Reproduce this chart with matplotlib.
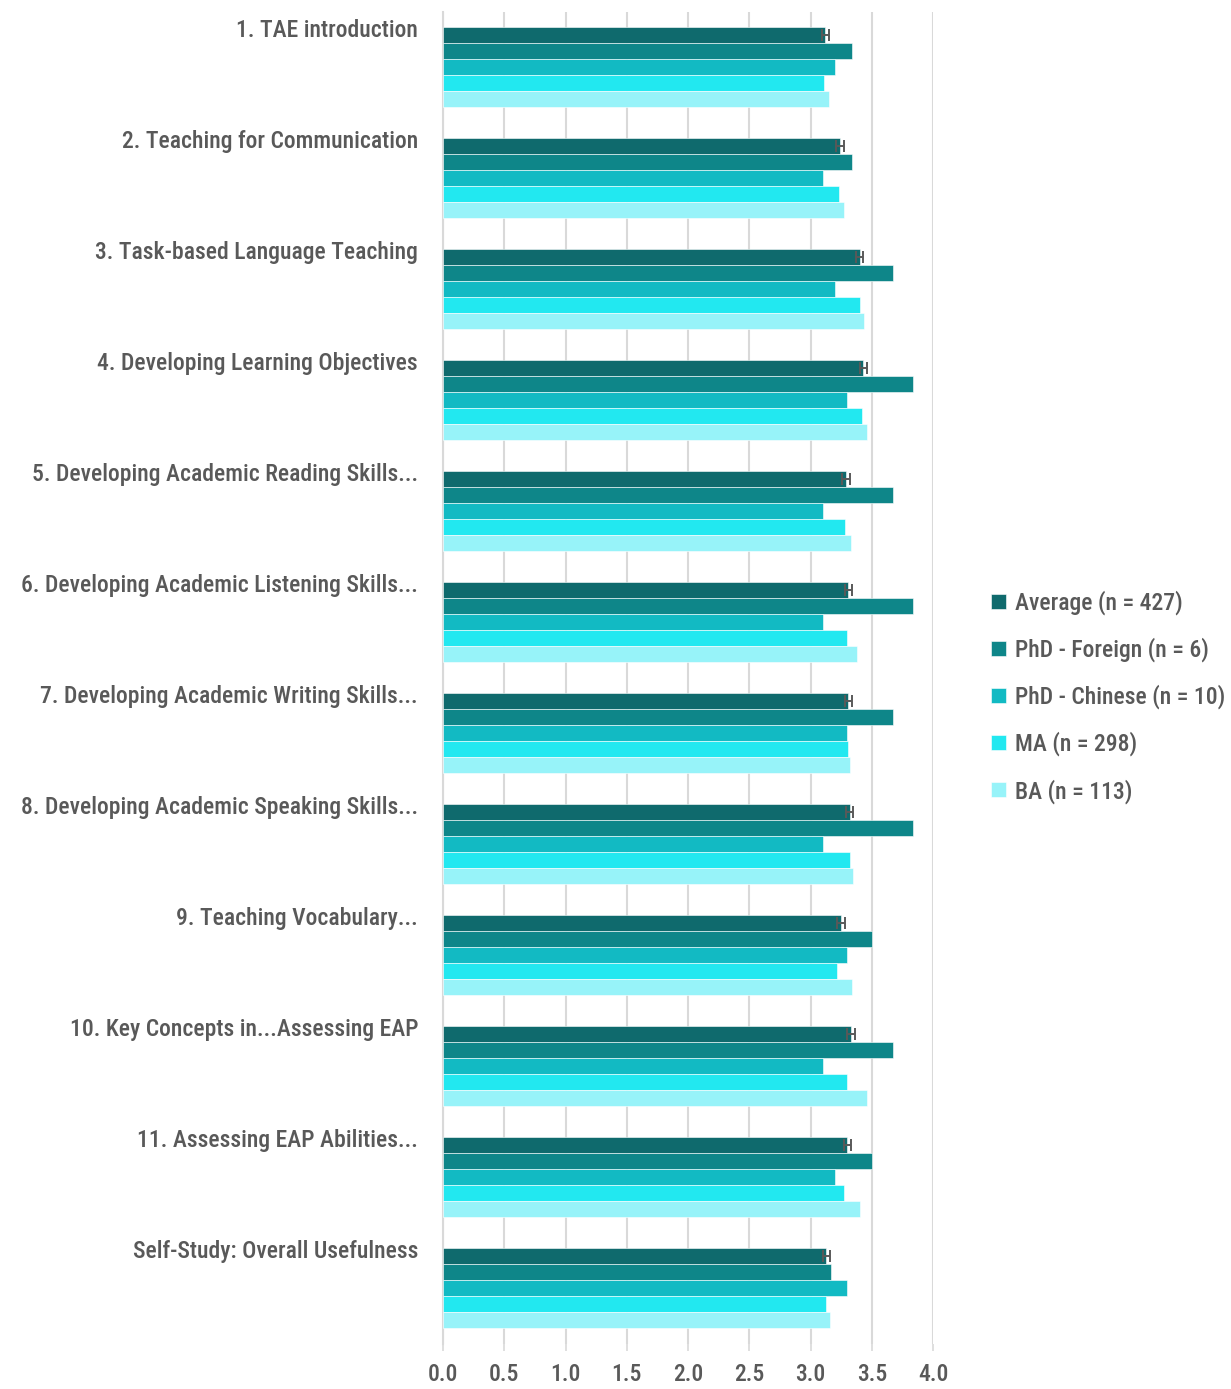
import matplotlib.pyplot as plt
from matplotlib import font_manager
import numpy as np

categories = [
    "1. TAE introduction",
    "2. Teaching for Communication",
    "3. Task-based Language Teaching",
    "4. Developing Learning Objectives",
    "5. Developing Academic Reading Skills...",
    "6. Developing Academic Listening Skills...",
    "7. Developing Academic Writing Skills...",
    "8. Developing Academic Speaking Skills...",
    "9. Teaching Vocabulary...",
    "10. Key Concepts in...Assessing EAP",
    "11. Assessing EAP Abilities...",
    "Self-Study: Overall Usefulness",
]

series_names = [
    "Average (n = 427)",
    "PhD - Foreign (n = 6)",
    "PhD - Chinese (n = 10)",
    "MA (n = 298)",
    "BA (n = 113)",
]

average = [3.12, 3.24, 3.40, 3.43, 3.29, 3.31, 3.31, 3.32, 3.25, 3.33, 3.30, 3.13]
phd_foreign = [3.34, 3.34, 3.67, 3.84, 3.67, 3.84, 3.67, 3.84, 3.50, 3.67, 3.50, 3.17]
phd_chinese = [3.20, 3.10, 3.20, 3.30, 3.10, 3.10, 3.30, 3.10, 3.30, 3.10, 3.20, 3.30]
ma = [3.11, 3.23, 3.40, 3.42, 3.28, 3.30, 3.31, 3.32, 3.22, 3.30, 3.27, 3.13]
ba = [3.15, 3.27, 3.44, 3.46, 3.33, 3.38, 3.32, 3.35, 3.34, 3.46, 3.40, 3.16]
avg_err = [0.03] * 12

colors = ["#0F6A6D", "#0E8689", "#12BAC3", "#22E8F0", "#97F3F9"]
text_color = "#595959"
grid_color = "#D9D9D9"

# pick a narrow font if one is installed
fs = 14
family = "Liberation Sans"
for name in ["Roboto Condensed", "Liberation Sans Narrow", "DejaVu Sans Condensed", "Open Sans Condensed"]:
    try:
        font_manager.findfont(font_manager.FontProperties(family=name), fallback_to_default=False)
        family = name
        fs = 17
        break
    except Exception:
        pass
plt.rcParams['font.family'] = [family, 'DejaVu Sans']
plt.rcParams['font.weight'] = 'medium'

fig = plt.figure(figsize=(12.31, 13.89), dpi=100)
ax = fig.add_axes([443 / 1231, 1 - 1343.5 / 1389, (933 - 443) / 1231, (1343.5 - 11.5) / 1389])

y = np.arange(len(categories))
h = 16 / 111
all_series = [average, phd_foreign, phd_chinese, ma, ba]
for k, (vals, name, c) in enumerate(zip(all_series, series_names, colors)):
    pos = y - 2 * h + k * h
    ax.barh(pos, vals, height=h, color=c, label=name, edgecolor="white", linewidth=0.4, zorder=3)
    if k == 0:
        ax.errorbar(vals, pos, xerr=avg_err, fmt="none", ecolor=text_color,
                    elinewidth=1.4, capsize=4.5, capthick=1.4, zorder=4)

ax.set_xlim(0, 4)
ax.set_ylim(len(categories) - 0.5, -0.5)
ax.set_xticks(np.arange(0, 4.01, 0.5))
ax.set_xticklabels([f"{v:.1f}" for v in np.arange(0, 4.01, 0.5)], fontsize=fs, color=text_color)
ax.tick_params(axis="x", length=5, color=grid_color, width=1.2, pad=9)
ax.set_yticks(y - 0.35)
ax.set_yticklabels(categories, fontsize=fs, color=text_color)
ax.tick_params(axis="y", length=0, pad=18)
ax.grid(axis="x", color=grid_color, linewidth=1.5, zorder=0)
for s in ["top", "right", "bottom"]:
    ax.spines[s].set_visible(False)
ax.spines["left"].set_color(grid_color)
ax.spines["left"].set_linewidth(1.5)

leg = fig.legend(loc="center left", bbox_to_anchor=(982 / 1231, 1 - 697 / 1389), frameon=False,
                 fontsize=fs, handlelength=0.6, handleheight=0.6, handletextpad=0.4,
                 labelspacing=0.95, borderaxespad=0)
for t in leg.get_texts():
    t.set_color(text_color)

fig.savefig("out.png", dpi=100)
